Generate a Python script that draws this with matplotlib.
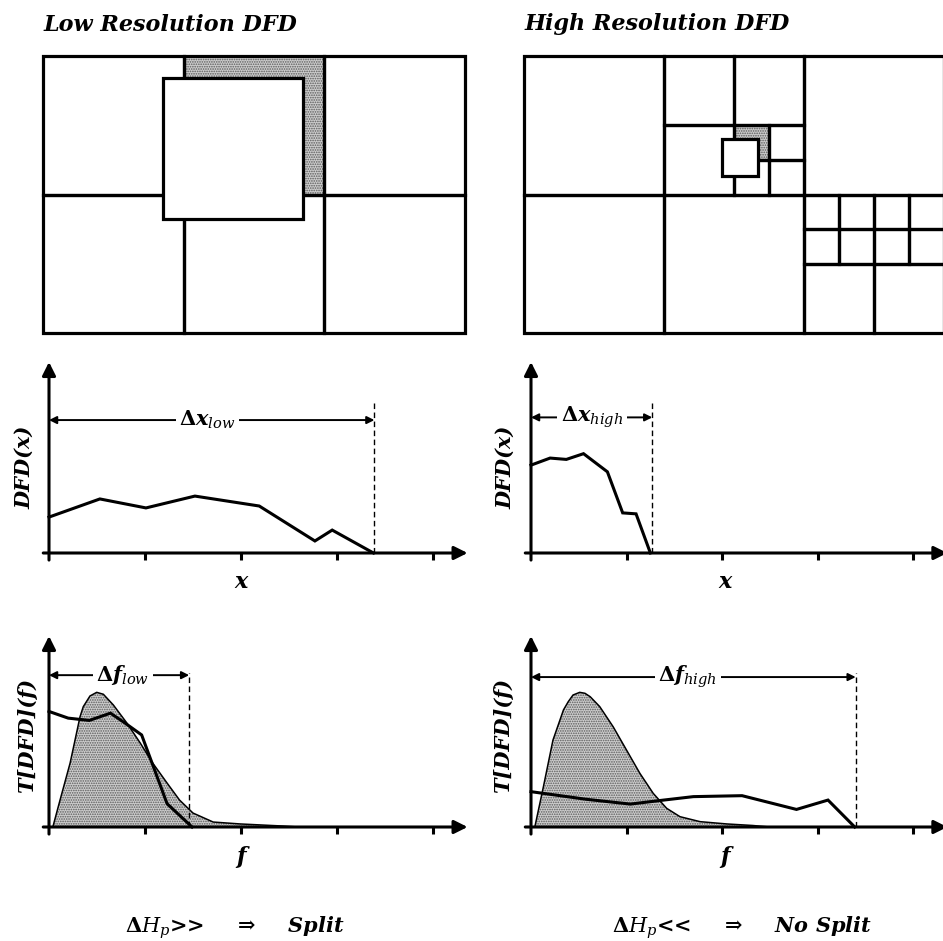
import matplotlib
matplotlib.use('Agg')
import matplotlib.pyplot as plt
from matplotlib.patches import Rectangle

W, H = 943, 941
plt.rcParams['mathtext.fontset'] = 'custom'
plt.rcParams['mathtext.rm'] = 'DejaVu Serif:bold'
plt.rcParams['mathtext.it'] = 'DejaVu Serif:italic'
plt.rcParams['mathtext.bf'] = 'DejaVu Serif:italic:bold'
plt.rcParams['hatch.color'] = '#5a5a5a'
plt.rcParams['hatch.linewidth'] = 0.8

# ---------------- data ----------------
titles = ['Low Resolution DFD', 'High Resolution DFD']
tick_positions = [0, 1, 2, 3, 4]

# quadtree cells (x, y, w, h) in block units, y from top
low_cells = [(0, 0, 1, 1), (1, 0, 1, 1), (2, 0, 1, 1),
             (0, 1, 1, 1), (1, 1, 1, 1), (2, 1, 1, 1)]
low_shaded = [(1, 0, 1, 1)]
low_block = (0.85, 0.16, 1.0, 1.02)

high_cells = [(0, 0, 1, 1), (0, 1, 1, 1), (1, 1, 1, 1), (2, 0, 1, 1),
              (1, 0, .5, .5), (1.5, 0, .5, .5), (1, .5, .5, .5),
              (1.5, .5, .25, .25), (1.75, .5, .25, .25),
              (1.5, .75, .25, .25), (1.75, .75, .25, .25),
              (2, 1, .25, .25), (2.25, 1, .25, .25), (2, 1.25, .25, .25), (2.25, 1.25, .25, .25),
              (2.5, 1, .25, .25), (2.75, 1, .25, .25), (2.5, 1.25, .25, .25), (2.75, 1.25, .25, .25),
              (2, 1.5, .5, .5), (2.5, 1.5, .5, .5)]
high_shaded = [(1.5, .5, .25, .25)]
high_block = (1.414, 0.6, 0.257, 0.267)

low_dfd_x = [0.0, 0.53, 1.01, 1.52, 2.19, 2.77, 2.95, 3.38]
low_dfd_y = [1.88, 2.83, 2.36, 2.98, 2.46, 0.63, 1.20, 0.0]
high_dfd_x = [0.0, 0.20, 0.37, 0.55, 0.80, 0.96, 1.10, 1.25]
high_dfd_y = [4.60, 4.97, 4.90, 5.20, 4.25, 2.10, 2.05, 0.0]

low_spec_x = [0.04, 0.115, 0.22, 0.323, 0.357, 0.427, 0.497, 0.566, 0.67, 0.81, 0.95,
              1.08, 1.23, 1.36, 1.50, 1.71, 1.99, 2.44, 2.6]
low_spec_y = [0, 1.41, 3.35, 5.77, 6.30, 6.86, 7.05, 6.95, 6.39, 5.45, 4.40,
              3.35, 2.30, 1.41, 0.73, 0.26, 0.16, 0.05, 0]
low_tdfd_x = [0.0, 0.20, 0.42, 0.64, 0.79, 0.965, 1.23, 1.49]
low_tdfd_y = [6.05, 5.70, 5.58, 5.96, 5.45, 4.82, 1.22, 0.0]

high_spec_x = [0.04, 0.13, 0.23, 0.34, 0.39, 0.44, 0.51, 0.565, 0.62, 0.72, 0.86, 1.0,
               1.14, 1.28, 1.42, 1.56, 1.77, 2.05, 2.32, 2.5]
high_spec_y = [0, 2.11, 4.55, 6.13, 6.56, 6.91, 7.05, 7.0, 6.82, 6.30, 5.25, 4.03,
               2.81, 1.76, 0.98, 0.54, 0.28, 0.16, 0.08, 0]
high_tdfd_x = [0.0, 0.58, 1.04, 1.39, 1.70, 2.21, 2.78, 3.11, 3.39]
high_tdfd_y = [1.85, 1.45, 1.20, 1.41, 1.59, 1.64, 0.92, 1.41, 0.0]

# extent markers: (end x, dashed top, arrow y, label x)
low_dx = (3.39, 7.9, 6.96, 1.65)
high_dx = (1.27, 8.0, 7.10, 0.64)
low_df = (1.46, 8.05, 7.95, 0.77)
high_df = (3.40, 8.06, 7.85, 1.64)

# ---------------- figure ----------------
fig = plt.figure(figsize=(W / 100, H / 100), dpi=100)

BI = dict(fontfamily='DejaVu Serif', fontweight='bold', fontstyle='italic')
SHADE = dict(facecolor='#cdcdcd', edgecolor='#5a5a5a', hatch='.......', lw=0)


def px_axes(x0, y0, x1, y1):
    return fig.add_axes([x0 / W, 1 - y1 / H, (x1 - x0) / W, (y1 - y0) / H])


def draw_grid(ax, cells, shaded, block):
    ax.set_xlim(0, 3)
    ax.set_ylim(2, 0)
    ax.axis('off')
    for (x, y, w, h) in shaded:
        ax.add_patch(Rectangle((x, y), w, h, zorder=1, clip_on=False, **SHADE))
    for (x, y, w, h) in cells:
        ax.add_patch(Rectangle((x, y), w, h, fill=False, edgecolor='k', lw=2.3,
                               zorder=2, clip_on=False))
    x, y, w, h = block
    ax.add_patch(Rectangle((x, y), w, h, facecolor='white', edgecolor='k', lw=2.3,
                           zorder=3, clip_on=False))


g1 = px_axes(43, 56, 465, 333)
draw_grid(g1, low_cells, low_shaded, low_block)
g2 = px_axes(524, 56, 944, 333)
draw_grid(g2, high_cells, high_shaded, high_block)

fig.text(44 / W, 1 - 31 / H, titles[0], fontsize=16, va='baseline', **BI)
fig.text(525 / W, 1 - 30 / H, titles[1], fontsize=16, va='baseline', **BI)


def panel(ox, oy, sx, sy, xlim=(-0.3, 4.6), ylim=(-1.2, 10.6)):
    left = ox + xlim[0] * sx
    right = ox + xlim[1] * sx
    bottom = oy - ylim[0] * sy
    top = oy - ylim[1] * sy
    ax = px_axes(left, top, right, bottom)
    ax.set_xlim(xlim)
    ax.set_ylim(ylim)
    ax.axis('off')
    ap = dict(arrowstyle='-|>', lw=2.2, color='k', mutation_scale=20,
              shrinkA=0, shrinkB=0)
    ax.annotate('', xy=(4.36, 0), xytext=(-0.06, 0), arrowprops=ap,
                annotation_clip=False)
    ax.annotate('', xy=(0, 10), xytext=(0, -0.37), arrowprops=ap,
                annotation_clip=False)
    for t in tick_positions[1:]:
        ax.plot([t, t], [0, -0.37], color='k', lw=2.2, solid_capstyle='butt',
                clip_on=False)
    return ax


def extent(ax, spec, label):
    xe, top, ya, xl = spec
    ax.plot([xe, xe], [0, top], color='k', lw=1.0, ls=(0, (4, 2.5)), clip_on=False)
    ax.annotate('', xy=(0, ya), xytext=(xe, ya),
                arrowprops=dict(arrowstyle='<|-|>', lw=1.4, color='k',
                                mutation_scale=11, shrinkA=0, shrinkB=0),
                annotation_clip=False)
    ax.text(xl, ya, label, ha='center', va='center', fontsize=15,
            bbox=dict(facecolor='white', edgecolor='none', pad=2.5), zorder=5)


SX_L, SX_R, SY = 96.0, 95.5, 19.1

a1 = panel(49, 553, SX_L, SY)
a1.plot(low_dfd_x, low_dfd_y, color='k', lw=2.2, solid_joinstyle='miter')
extent(a1, low_dx, r'$\Delta\mathbf{x}_{\mathit{low}}$')

a2 = panel(531, 553, SX_R, SY)
a2.plot(high_dfd_x, high_dfd_y, color='k', lw=2.2, solid_joinstyle='miter')
extent(a2, high_dx, r'$\Delta\mathbf{x}_{\mathit{high}}$')

a3 = panel(49, 827, SX_L, SY)
a3.fill_between(low_spec_x, low_spec_y, 0, zorder=1, **SHADE)
a3.plot(low_spec_x, low_spec_y, color='k', lw=1.1, zorder=2)
a3.plot(low_tdfd_x, low_tdfd_y, color='k', lw=2.2, zorder=3, solid_joinstyle='miter')
extent(a3, low_df, r'$\Delta\mathbf{f}_{\mathit{low}}$')

a4 = panel(531, 827, SX_R, SY)
a4.fill_between(high_spec_x, high_spec_y, 0, zorder=1, **SHADE)
a4.plot(high_spec_x, high_spec_y, color='k', lw=1.1, zorder=2)
a4.plot(high_tdfd_x, high_tdfd_y, color='k', lw=2.2, zorder=3, solid_joinstyle='miter')
extent(a4, high_df, r'$\Delta\mathbf{f}_{\mathit{high}}$')

# axis labels
for (x, y) in [(24, 467), (505, 467)]:
    fig.text(x / W, 1 - y / H, 'DFD(x)', rotation=90, ha='center', va='center',
             fontsize=15, **BI)
for (x, y) in [(27, 735), (503, 735)]:
    fig.text(x / W, 1 - y / H, 'T[DFD](f)', rotation=90, ha='center', va='center',
             fontsize=15, **BI)
for (x, y) in [(241, 582), (725, 582)]:
    fig.text(x / W, 1 - y / H, 'x', ha='center', va='center', fontsize=16, **BI)
for (x, y) in [(241, 857), (725, 857)]:
    fig.text(x / W, 1 - y / H, 'f', ha='center', va='center', fontsize=16, **BI)

fig.text(235 / W, 1 - 928 / H, r'$\Delta H_{p}$>>    $\Rightarrow$    Split',
         ha='center', va='center', fontsize=15, fontfamily='DejaVu Serif',
         fontstyle='italic', fontweight='semibold')
fig.text(742 / W, 1 - 928 / H, r'$\Delta H_{p}$<<    $\Rightarrow$    No Split',
         ha='center', va='center', fontsize=15, fontfamily='DejaVu Serif',
         fontstyle='italic', fontweight='semibold')

fig.savefig('out.png', dpi=100)
